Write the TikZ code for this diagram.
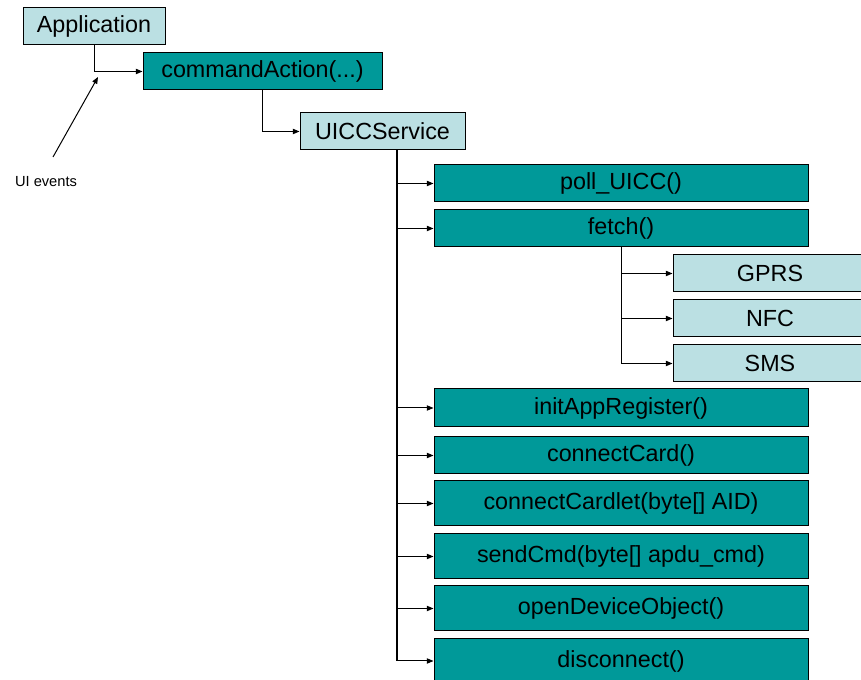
\documentclass[tikz,border=0pt]{standalone}
\usepackage{fontspec}
\setmainfont{Liberation Sans}
\usetikzlibrary{arrows.meta}
\definecolor{lightbox}{HTML}{BBE0E3}
\definecolor{tealbox}{HTML}{009999}
\tikzset{
    lightnode/.style={draw=black, fill=lightbox, line width=0.75pt, inner sep=0pt,
        minimum height=27.75pt, font=\fontsize{17.5}{20}\selectfont},
    tealnode/.style={draw=black, fill=tealbox, line width=0.75pt, inner sep=0pt,
        minimum height=27.75pt, font=\fontsize{17.5}{20}\selectfont},
    methodnode/.style={tealnode, minimum width=280.5pt},
    link/.style={line width=0.75pt, -{Triangle[length=5pt, width=4pt]}}
}
\begin{document}
\begin{tikzpicture}[x=0.75pt, y=-0.75pt]
        \useasboundingbox (0, 0) rectangle (861, 680);
        % top of the call chain
        \node[lightnode, minimum width=106.5pt] (app) at (94, 26.5) {Application};
        \node[tealnode, minimum width=179.25pt] (cmdaction) at (262.5, 71.5) {commandAction(...)};
        \node[lightnode, minimum width=123.75pt] (uicc) at (382.5, 131.5) {UICCService};
        \draw[link] (app.south) |- (cmdaction.west);
        \draw[link] (cmdaction.south) |- (uicc.west);
        % UI events
        \node[font=\fontsize{11}{13}\selectfont] (uievents) at (46, 182) {UI events};
        \coordinate (uitail) at (53, 157);
        \coordinate (uihead) at (98, 77);
        \draw[link] (uitail) -- (uihead);
        % methods of UICCService
        \node[methodnode] (poll) at (621, 183.5) {poll\_UICC()};
        \node[methodnode] (fetch) at (621, 228.5) {fetch()};
        \node[methodnode, minimum height=28.5pt] (initreg) at (621, 408) {initAppRegister()};
        \node[methodnode] (conncard) at (621, 455.5) {connectCard()};
        \node[methodnode, minimum height=33.75pt] (conncardlet) at (621, 503.5) {connectCardlet(byte[] AID)};
        \node[methodnode, minimum height=33.75pt] (sendcmd) at (621, 556.5) {sendCmd(byte[] apdu\_cmd)};
        \node[methodnode, minimum height=33.75pt] (opendev) at (621, 608.5) {openDeviceObject()};
        \node[methodnode, minimum height=33.75pt] (disconn) at (621, 661) {disconnect()};
        % channels of fetch()
        \node[lightnode, minimum width=145.5pt] (gprs) at (770, 273.5) {GPRS};
        \node[lightnode, minimum width=145.5pt] (nfc) at (770, 318.5) {NFC};
        \node[lightnode, minimum width=145.5pt] (sms) at (770, 363.5) {SMS};
        \draw[link] (fetch.south) |- (sms.west);
        \draw[link] (fetch.south |- gprs.west) -- (gprs.west);
        \draw[link] (fetch.south |- nfc.west) -- (nfc.west);
        % trunk
        \coordinate (trunk) at (397, 150);
        \draw[line width=1.5pt] (trunk) -- (trunk |- disconn.west);
        \foreach \m in {poll, fetch, initreg, conncard, conncardlet, sendcmd, opendev, disconn}
            \draw[link] (trunk |- \m.west) -- (\m.west);
    \end{tikzpicture}
\end{document}
